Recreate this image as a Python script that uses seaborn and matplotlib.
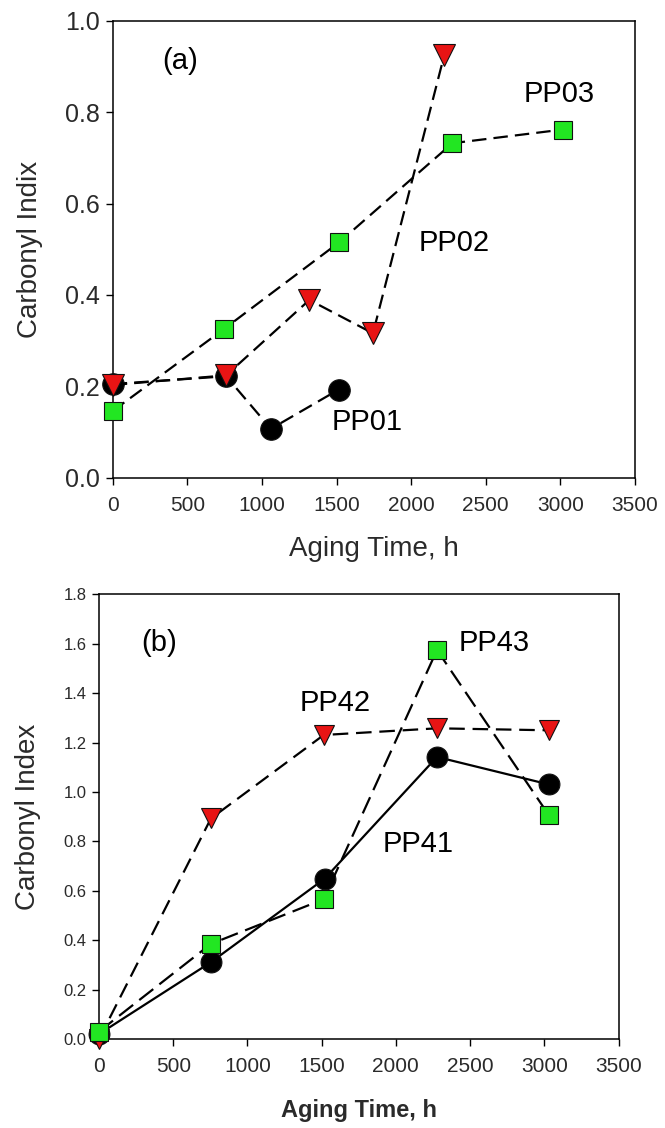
import matplotlib
matplotlib.use("Agg")
import matplotlib.pyplot as plt
import seaborn as sns
import pandas as pd

# ---------------- data ----------------
# Panel (a)
pp01_t = [0, 760, 1060, 1515]
pp01_ci = [0.205, 0.222, 0.107, 0.193]
pp02_t = [0, 760, 1318, 1744, 2221]
pp02_ci = [0.203, 0.224, 0.389, 0.316, 0.924]
pp03_t = [0, 748, 1517, 2276, 3019]
pp03_ci = [0.146, 0.326, 0.515, 0.732, 0.762]

# Panel (b)
pp41_t = [0, 754, 1520, 2277, 3029]
pp41_ci = [0.02, 0.311, 0.649, 1.142, 1.031]
pp42_t = [0, 754, 1514, 2277, 3029]
pp42_ci = [0.0, 0.893, 1.231, 1.258, 1.250]
pp43_t = [0, 754, 1514, 2277, 3029]
pp43_ci = [0.03, 0.385, 0.566, 1.575, 0.908]

x_ticks = [0, 500, 1000, 1500, 2000, 2500, 3000, 3500]
ya_ticks = [0.0, 0.2, 0.4, 0.6, 0.8, 1.0]
yb_ticks = [0.0, 0.2, 0.4, 0.6, 0.8, 1.0, 1.2, 1.4, 1.6, 1.8]

# ---------------- style ----------------
sns.set_theme(style="white")
plt.rcParams["font.family"] = ["Liberation Sans", "DejaVu Sans"]
plt.rcParams["axes.edgecolor"] = "black"

GREEN = "#22E622"
RED = "#E81414"
BLACK = "#000000"

fig = plt.figure(figsize=(6.65, 11.28), dpi=100)
ax1 = fig.add_axes([0.1695, 0.5765, 0.7854, 0.4051])
ax2 = fig.add_axes([0.1489, 0.0789, 0.7812, 0.3941])


def series(ax, t, ci, marker, color, ms, ls, dashes=None, z=3):
    df = pd.DataFrame({"t": t, "ci": ci})
    kw = dict(x="t", y="ci", data=df, ax=ax, sort=False, estimator=None,
              color="black", linewidth=1.6, marker=marker, markersize=ms,
              markerfacecolor=color, markeredgecolor="#111111",
              markeredgewidth=0.8, clip_on=False, zorder=z)
    if ls == "solid":
        kw["linestyle"] = "-"
    else:
        kw["dashes"] = dashes
    sns.lineplot(**kw)


# panel (a) – all dashed
series(ax1, pp03_t, pp03_ci, "s", GREEN, 13.5, "dash", (6.5, 3.2), z=3)
series(ax1, pp01_t, pp01_ci, "o", BLACK, 15.5, "dash", (6.5, 3.2), z=4)
series(ax1, pp02_t, pp02_ci, "v", RED, 15.5, "dash", (6.5, 3.2), z=5)

# panel (b)
series(ax2, pp41_t, pp41_ci, "o", BLACK, 15, "solid", z=3)
series(ax2, pp42_t, pp42_ci, "v", RED, 15, "dash", (7, 3.5), z=4)
series(ax2, pp43_t, pp43_ci, "s", GREEN, 13, "dash", (8, 3.5), z=5)

for ax, yt, ylim in ((ax1, ya_ticks, (0, 1.0)), (ax2, yb_ticks, (0, 1.8))):
    ax.set_xlim(0, 3500)
    ax.set_ylim(*ylim)
    ax.set_xticks(x_ticks)
    ax.set_yticks(yt)
    ax.set_yticklabels([f"{v:.1f}" for v in yt])
    for s in ax.spines.values():
        s.set_visible(True)
        s.set_color("black")
        s.set_linewidth(1.1)
    ax.tick_params(axis="both", which="both", direction="out", length=5,
                   width=1, colors="black", labelcolor="#2a2a2a",
                   bottom=True, left=True, top=False, right=False)

ax1.tick_params(axis="x", labelsize=15, pad=8)
ax1.tick_params(axis="y", labelsize=18, pad=4)
ax2.tick_params(axis="x", labelsize=15, pad=8)
ax2.tick_params(axis="y", labelsize=12, pad=4)

ax1.set_xlabel("Aging Time, h", fontsize=20, color="#2a2a2a")
ax1.set_ylabel("Carbonyl Indix", fontsize=20, color="#2a2a2a")
ax2.set_xlabel("Aging Time, h", fontsize=17, fontweight="bold", color="#2a2a2a")
ax2.set_ylabel("Carbonyl Index", fontsize=20, color="#2a2a2a")

ax1.xaxis.set_label_coords(0.5, -0.128)
ax1.yaxis.set_label_coords(-0.133, 0.5)
ax2.xaxis.set_label_coords(0.5, -0.135)
ax2.yaxis.set_label_coords(-0.112, 0.5)

# annotations
ann = dict(fontsize=21, ha="center", va="center", color="black")
ax1.text(451, 0.912, "(a)", **ann)
ax1.text(2990, 0.840, "PP03", **ann)
ax1.text(2290, 0.514, "PP02", **ann)
ax1.text(1702, 0.123, "PP01", **ann)

ax2.text(404, 1.605, "(b)", **ann)
ax2.text(2661, 1.605, "PP43", **ann)
ax2.text(1590, 1.361, "PP42", **ann)
ax2.text(2147, 0.788, "PP41", **ann)

fig.savefig("out.png", dpi=100)
